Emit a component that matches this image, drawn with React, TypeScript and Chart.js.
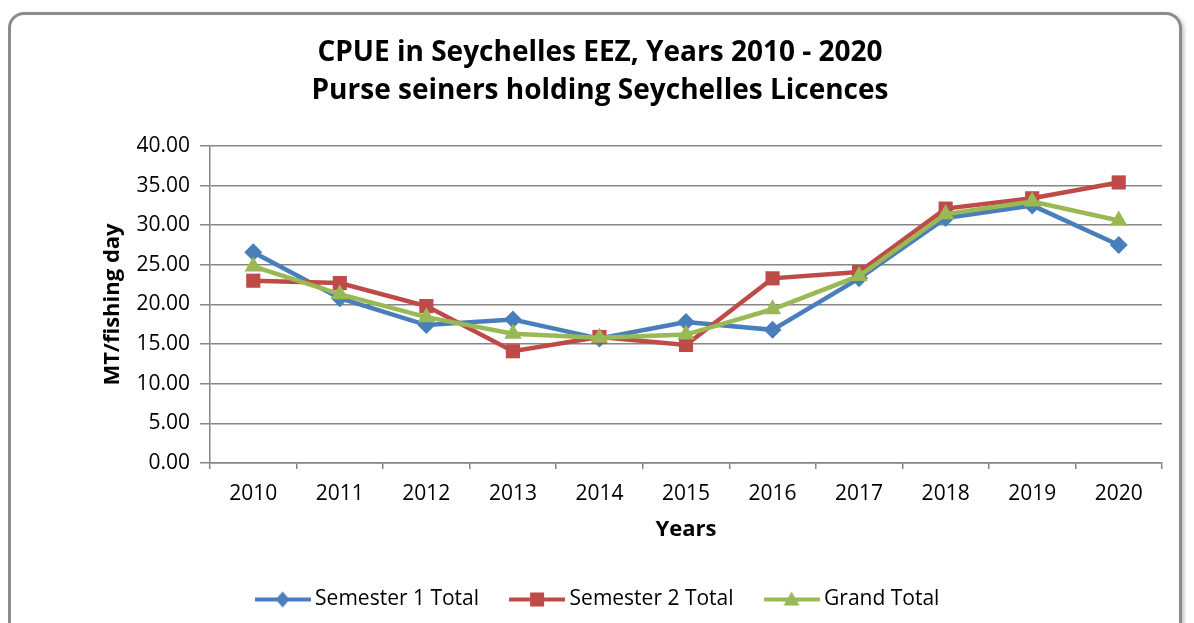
import React, { useEffect, useRef } from 'react';
import { Chart, registerables } from 'chart.js';

Chart.register(...registerables);

const years = ['2010', '2011', '2012', '2013', '2014', '2015', '2016', '2017', '2018', '2019', '2020'];
const semester1Total = [26.6, 20.8, 17.4, 18.1, 15.7, 17.8, 16.8, 23.3, 30.9, 32.5, 27.5];
const semester2Total = [23.0, 22.7, 19.8, 14.1, 15.9, 14.9, 23.3, 24.1, 32.1, 33.4, 35.4];
const grandTotal = [24.8, 21.3, 18.4, 16.3, 15.8, 16.2, 19.4, 23.6, 31.4, 33.0, 30.6];
const seriesNames = ['Semester 1 Total', 'Semester 2 Total', 'Grand Total'];
const titleLines = ['CPUE in Seychelles EEZ, Years 2010 - 2020', 'Purse seiners holding Seychelles Licences'];
const yAxisTitle = 'MT/fishing day';
const xAxisTitle = 'Years';

const FONT = "'Open Sans', 'DejaVu Sans', sans-serif";
const BLUE = '#4A7EBB';
const RED = '#BE4B48';
const GREEN = '#98B954';
const GRID = '#868686';

function legendIcon(color: string, style: string): HTMLCanvasElement {
  const c = document.createElement('canvas');
  c.width = 56;
  c.height = 20;
  const ctx = c.getContext('2d')!;
  ctx.strokeStyle = color;
  ctx.lineWidth = 4;
  ctx.beginPath();
  ctx.moveTo(0, 10);
  ctx.lineTo(56, 10);
  ctx.stroke();
  ctx.fillStyle = color;
  ctx.beginPath();
  if (style === 'rectRot') {
    ctx.moveTo(28, 2);
    ctx.lineTo(35, 10);
    ctx.lineTo(28, 18);
    ctx.lineTo(21, 10);
  } else if (style === 'rect') {
    ctx.rect(21, 3, 14, 14);
  } else {
    ctx.moveTo(28, 2);
    ctx.lineTo(36, 16);
    ctx.lineTo(20, 16);
  }
  ctx.closePath();
  ctx.fill();
  return c;
}

export default function App() {
  const ref = useRef<HTMLCanvasElement | null>(null);

  useEffect(() => {
    if (!ref.current) return;
    const styles = ['rectRot', 'rect', 'triangle'];
    const colors = [BLUE, RED, GREEN];
    const values = [semester1Total, semester2Total, grandTotal];
    const radii = [9, 10, 10];
    const chart = new Chart(ref.current, {
      type: 'line',
      data: {
        labels: years,
        datasets: values.map((v, i) => ({
          label: seriesNames[i],
          data: v,
          borderColor: colors[i],
          backgroundColor: colors[i],
          borderWidth: 4.5,
          pointStyle: styles[i] as any,
          pointRadius: radii[i],
          pointBorderWidth: 0,
          pointBackgroundColor: colors[i],
          tension: 0,
          order: 3 - i,
        })),
      },
      options: {
        animation: false,
        responsive: false,
        maintainAspectRatio: false,
        layout: { padding: { left: 30, right: 24, top: 0, bottom: 3 } },
        plugins: {
          tooltip: { enabled: false },
          title: {
            display: true,
            text: titleLines,
            color: '#000',
            font: { family: FONT, size: 28, weight: 'bold', lineHeight: 1.357 },
            padding: { top: 26, bottom: 36 },
          },
          legend: {
            position: 'bottom',
            labels: {
              usePointStyle: true,
              pointStyleWidth: 44,
              color: '#000',
              font: { family: FONT, size: 21 },
              padding: 36,
              generateLabels: (ch: any) =>
                ch.data.datasets.map((ds: any, i: number) => ({
                  text: ds.label,
                  fillStyle: colors[i],
                  strokeStyle: colors[i],
                  lineWidth: 0,
                  pointStyle: legendIcon(colors[i], styles[i]),
                  datasetIndex: i,
                  hidden: false,
                  fontColor: '#000',
                })),
            },
          },
        },
        scales: {
          x: {
            offset: true,
            grid: { display: true, drawOnChartArea: false, drawTicks: true, tickLength: 6, color: GRID, lineWidth: 1.5, offset: true },
            border: { display: true, color: GRID, width: 1.5 },
            ticks: { color: '#000', font: { family: FONT, size: 21 }, padding: 12, maxRotation: 0 },
            title: { display: true, text: xAxisTitle, color: '#000', font: { family: FONT, size: 22, weight: 'bold' }, padding: { top: 4, bottom: 10 } },
            afterFit: (s: any) => { s.height = 90; },
          },
          y: {
            min: 0,
            max: 40,
            ticks: {
              stepSize: 5,
              color: '#000',
              font: { family: FONT, size: 21 },
              padding: 10,
              callback: (v: any) => Number(v).toFixed(2),
            },
            grid: { color: GRID, lineWidth: 1.5, tickLength: 10 },
            border: { display: true, color: GRID, width: 1.5 },
            title: { display: true, text: yAxisTitle, color: '#000', font: { family: FONT, size: 22, weight: 'bold' }, padding: { top: 62, bottom: 0 } },
            afterFit: (s: any) => { s.width = 172; },
          },
        },
      },
    });
    return () => chart.destroy();
  }, []);

  return (
    <div style={{ position: 'relative', width: 1178, height: 615, overflow: 'hidden' }}>
      <div
        style={{
          position: 'absolute',
          left: 0,
          top: 4,
          width: 1174,
          height: 640,
          border: '3px solid #8c8c8c',
          borderRadius: 16,
          boxShadow: '2px 2px 4px rgba(0,0,0,0.25)',
          background: '#fff',
          boxSizing: 'border-box',
        }}
      />
      <canvas ref={ref} width={1178} height={615} style={{ position: 'absolute', left: 0, top: 0, display: 'block' }} />
    </div>
  );
}
